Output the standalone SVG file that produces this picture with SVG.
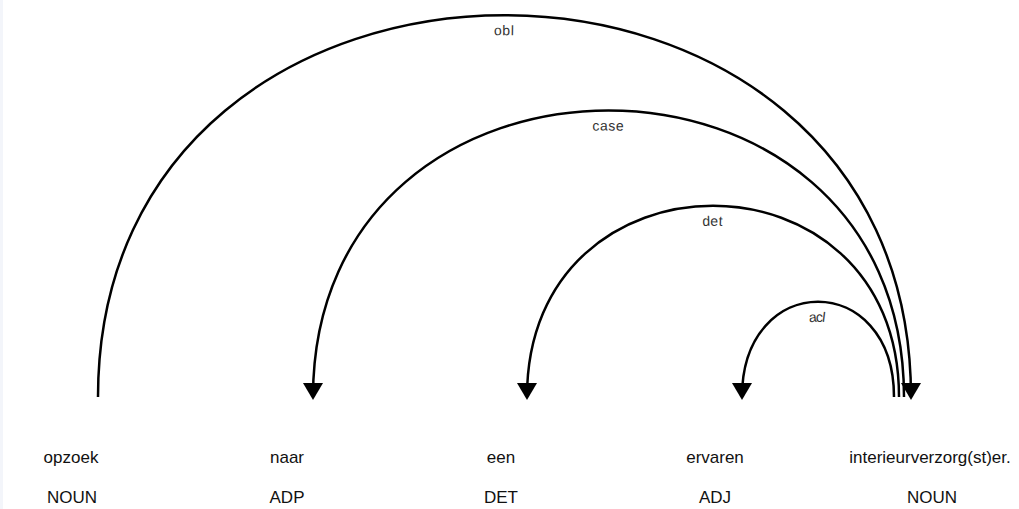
<svg xmlns="http://www.w3.org/2000/svg" xmlns:xlink="http://www.w3.org/1999/xlink" width="1019" height="509" viewBox="0 0 1019 509">
<style>
.word{font-family:"Liberation Sans",Arial,sans-serif;font-size:17px;fill:#111;text-anchor:middle}
.arc{fill:none;stroke:#000;stroke-width:2.5}
.head{fill:#000}
.lbl{font-family:"Liberation Sans",Arial,sans-serif;font-size:14px;letter-spacing:1px;fill:#333}
</style>
<defs>
<path id="a-obl" d="M98,397 C98,-112 911,-112 911,397"/>
<path id="a-case" d="M313,397 C313,15 904,15 904,397"/>
<path id="a-det" d="M527,397 C527,142 899,142 899,397"/>
<path id="a-acl" d="M742,397 C742,270 894,270 894,397"/>
</defs>
<rect x="0" y="0" width="1019" height="509" fill="#fff"/>
<rect x="0" y="0" width="3" height="509" fill="#f3f5fa"/>
<g id="connectors">
<use xlink:href="#a-obl" class="arc"/>
<use xlink:href="#a-case" class="arc"/>
<use xlink:href="#a-det" class="arc"/>
<use xlink:href="#a-acl" class="arc"/>
<polygon class="head" points="911,400 901,383 921,383"/>
<polygon class="head" points="313,400 303,383 323,383"/>
<polygon class="head" points="527,400 517,383 537,383"/>
<polygon class="head" points="742,400 732,383 752,383"/>
<text class="lbl" dy="20"><textPath xlink:href="#a-obl" startOffset="50%" text-anchor="middle">obl</textPath></text>
<text class="lbl" dy="20"><textPath xlink:href="#a-case" startOffset="50%" text-anchor="middle">case</textPath></text>
<text class="lbl" dy="20"><textPath xlink:href="#a-det" startOffset="50%" text-anchor="middle">det</textPath></text>
<text class="lbl" dy="20"><textPath xlink:href="#a-acl" startOffset="50%" text-anchor="middle">acl</textPath></text>
</g>
<g id="w0"><text class="word" x="71" y="463">opzoek</text><text class="word" x="72" y="503">NOUN</text></g>
<g id="w1"><text class="word" x="287" y="463">naar</text><text class="word" x="287" y="503">ADP</text></g>
<g id="w2"><text class="word" x="501" y="463">een</text><text class="word" x="501" y="503">DET</text></g>
<g id="w3"><text class="word" x="715" y="463">ervaren</text><text class="word" x="715" y="503">ADJ</text></g>
<g id="w4"><text class="word" x="930" y="463">interieurverzorg(st)er.</text><text class="word" x="932" y="503">NOUN</text></g>
</svg>
